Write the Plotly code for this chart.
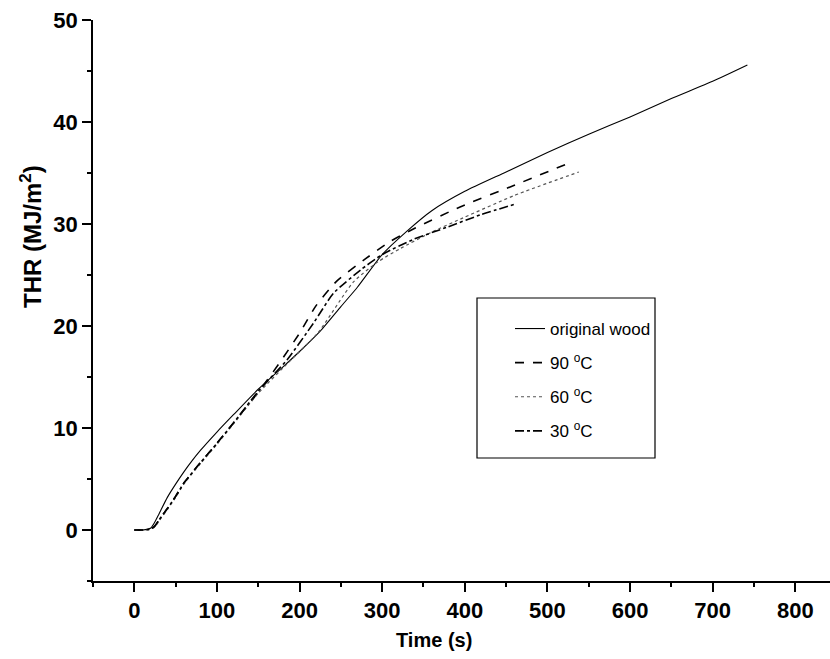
import plotly.graph_objects as go

# ---- data ----
t_wood = [0, 10, 20, 25, 30, 40, 50, 60, 70, 80, 100, 120, 150, 180, 200, 225, 250,
          270, 300, 330, 360, 400, 450, 500, 550, 600, 650, 700, 742]
thr_wood = [0, 0, 0.2, 0.8, 1.6, 3.2, 4.5, 5.7, 6.8, 7.8, 9.6, 11.3, 13.8, 16.0, 17.5,
            19.5, 21.9, 23.8, 27.0, 29.3, 31.3, 33.2, 35.1, 37.0, 38.8, 40.5, 42.3, 44.0, 45.6]

t_90 = [0, 10, 20, 25, 30, 40, 50, 60, 80, 100, 120, 150, 175, 200, 220, 245, 280,
        310, 340, 395, 460, 527]
thr_90 = [0, 0, 0.1, 0.4, 1.0, 2.1, 3.3, 4.6, 6.6, 8.5, 10.5, 13.5, 16.3, 19.3, 22.0,
          24.4, 26.6, 28.3, 29.6, 31.7, 33.8, 36.0]

t_60 = [0, 10, 20, 25, 30, 40, 50, 60, 80, 100, 120, 150, 190, 222, 265, 295, 322,
        360, 398, 460, 538]
thr_60 = [0, 0, 0.1, 0.3, 0.9, 2.0, 3.2, 4.5, 6.5, 8.4, 10.4, 13.4, 16.7, 19.3, 24.3,
          26.3, 27.6, 29.2, 30.6, 32.8, 35.1]

t_30 = [0, 10, 20, 25, 30, 40, 50, 60, 80, 100, 120, 150, 185, 217, 241, 274, 300,
        338, 379, 419, 463]
thr_30 = [0, 0, 0.1, 0.4, 1.0, 2.1, 3.3, 4.6, 6.6, 8.5, 10.5, 13.6, 16.7, 20.3, 23.2,
          25.5, 27.0, 28.5, 29.7, 30.9, 32.0]

names = ["original wood", "90 <sup>o</sup>C", "60 <sup>o</sup>C", "30 <sup>o</sup>C"]

x_ticks = [0, 100, 200, 300, 400, 500, 600, 700, 800]
y_ticks = [0, 10, 20, 30, 40, 50]

FONT = "Arial, Liberation Sans, sans-serif"

# plot-area geometry in pixels
L, R, T, B, W, H = 93, 0, 20, 78, 830, 659
PW, PH = W - L - R, H - T - B


def px(x):
    return (x - L) / PW


def py(y):
    return 1 - (y - T) / PH


fig = go.Figure()
series = [
    (t_wood, thr_wood, names[0], dict(color="black", width=1.1, dash="solid")),
    (t_90, thr_90, names[1], dict(color="black", width=1.6, dash="dash")),
    (t_60, thr_60, names[2], dict(color="#555555", width=1.2, dash="dot")),
    (t_30, thr_30, names[3], dict(color="black", width=1.6, dash="dashdot")),
]
for i, (x, y, n, ln) in enumerate(series):
    fig.add_trace(go.Scatter(x=x, y=y, name=n, mode="lines",
                             line=dict(shape="spline", smoothing=0.6, **ln),
                             legendgroup=str(i)))

axis_common = dict(
    showgrid=False, zeroline=False, showline=True, linecolor="black", linewidth=1.5,
    ticks="outside", ticklen=9, tickwidth=1.5, tickcolor="black", automargin=False,
    tickfont=dict(family=FONT, size=22, color="black", weight="bold"),
    minor=dict(ticks="outside", ticklen=4, tickwidth=1.5, tickcolor="black"),
)

fig.update_xaxes(range=[-50, 842], tickmode="array", tickvals=x_ticks,
                 minor_dtick=50, minor_tick0=0, **axis_common)
fig.update_yaxes(range=[-5, 50], tickmode="array", tickvals=y_ticks,
                 minor_dtick=5, minor_tick0=0, **axis_common)

fig.update_layout(
    width=W, height=H,
    margin=dict(l=L, r=R, t=T, b=B, autoexpand=False),
    paper_bgcolor="white", plot_bgcolor="white",
    font=dict(family=FONT, color="black"),
    showlegend=True,
    legend=dict(x=px(510), y=py(311), xanchor="left", yanchor="top",
                borderwidth=0, bgcolor="rgba(0,0,0,0)",
                font=dict(family=FONT, size=17, color="black"),
                traceorder="grouped", tracegroupgap=9),
    shapes=[dict(type="rect", xref="paper", yref="paper",
                 x0=px(477), x1=px(655), y0=py(458), y1=py(298),
                 line=dict(color="black", width=1.2), fillcolor="rgba(0,0,0,0)")],
    annotations=[
        dict(text="<b>Time (s)</b>", xref="paper", yref="paper",
             x=px(434), y=py(640), xanchor="center", yanchor="middle",
             showarrow=False, font=dict(family=FONT, size=20, color="black")),
        dict(text="<b>THR (MJ/m<sup>2</sup>)</b>", xref="paper", yref="paper",
             x=px(31), y=py(236), xanchor="center", yanchor="middle",
             textangle=-90, showarrow=False,
             font=dict(family=FONT, size=24, color="black")),
    ],
)

fig.write_html("out.html", config={"displayModeBar": False},
               post_script="document.body.style.margin='0';document.body.style.overflow='hidden';")
